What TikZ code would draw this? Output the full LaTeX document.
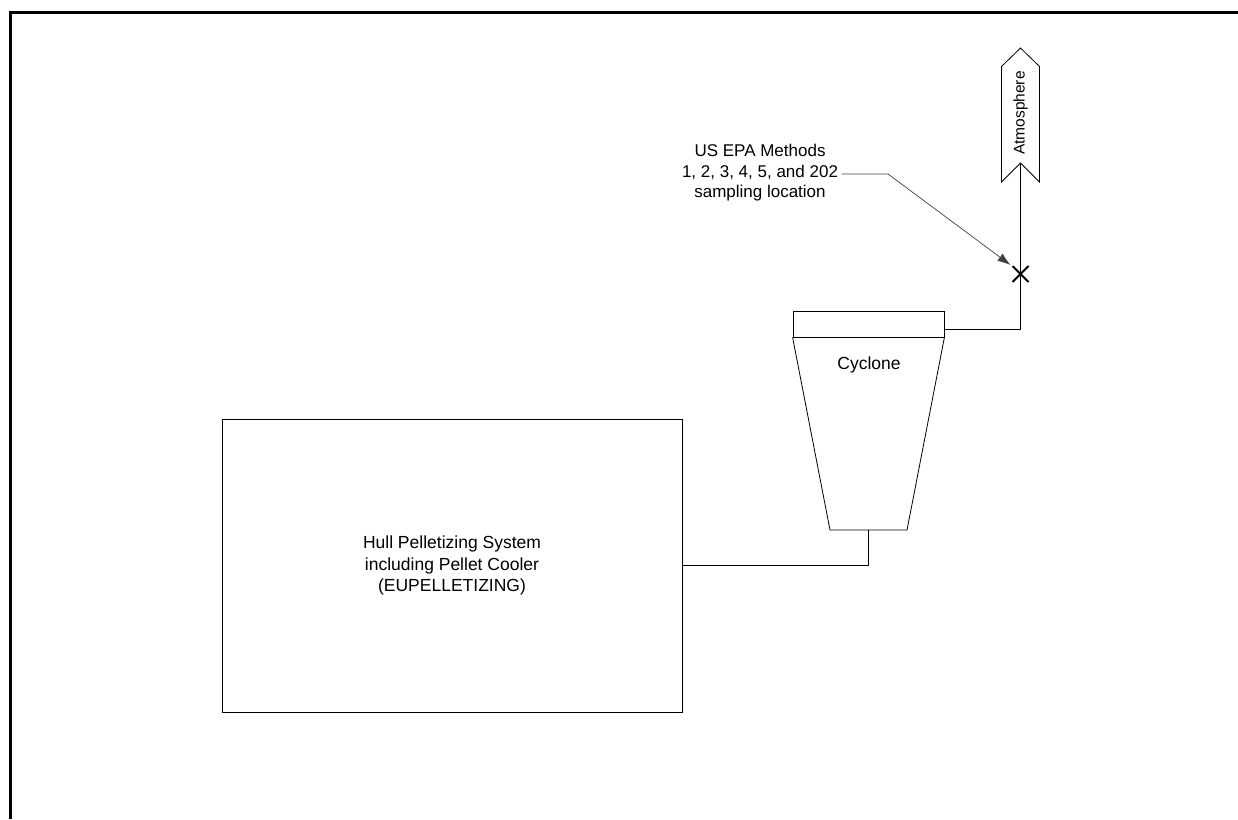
\documentclass[tikz,border=0pt]{standalone}
\usepackage{fontspec}
\setmainfont{Liberation Sans}
\usetikzlibrary{arrows.meta, positioning, calc}

\begin{document}
\begin{tikzpicture}[
    x=1pt, y=-1pt, % pixel-like units, y downwards
    >=Latex, % Set default arrow tip style
    frame/.style={line width=3pt}, % Style for the page border
    unit/.style={draw, line width=0.8pt, inner sep=0pt, align=center, font=\fontsize{17.5}{21.5}\selectfont}, % Style for process boxes
    pipe/.style={line width=0.8pt}, % Style for ducts
    leader/.style={-{Latex[length=13pt, width=9pt]}, line width=0.7pt, black!75}, % Style for the callout
    lbl/.style={align=center, font=\fontsize{17}{20.5}\selectfont} % Style for texts
]
    \useasboundingbox (0,0) rectangle (1238,819);

    % Border
    \draw[frame] (1238,12) -- (10,12) -- (10,819);

    % Hull pelletizing system
    \node[unit, minimum width=460pt, minimum height=293pt] (hull) at (452,565.5)
        {Hull Pelletizing System\\including Pellet Cooler\\(EUPELLETIZING)};

    % Cyclone (inlet box and cone)
    \node[draw, line width=0.8pt, minimum width=151pt, minimum height=26pt, inner sep=0pt] (cyctop) at (868.5,324) {};
    \coordinate (cbl) at (830,530);
    \coordinate (cbr) at (907,530);
    \draw[pipe] (cyctop.south west) -- (cbl) -- (cbr) -- (cyctop.south east);
    \node[lbl, font=\fontsize{17.5}{21}\selectfont] (cyclone) at (869,365) {Cyclone};
    \coordinate (cout) at ($(cbl)!0.5!(cbr)$);
    \coordinate (cexit) at ([yshift=-5pt]cyctop.east);

    % Atmosphere (stack exit marker)
    \coordinate (tip) at (1020.5,48);
    \coordinate (notch) at (1020.5,163);
    \draw[pipe] (tip) -- (1039.5,66.5) -- (1039.5,182) -- (notch) -- (1001.5,182) -- (1001.5,66.5) -- cycle;
    \node[rotate=90, font=\fontsize{15.5}{18}\selectfont] (atm) at (1020.5,113) {Atmosphere};

    % Ducts
    \draw[pipe] (hull.east) -| (cout);
    \draw[pipe] (cexit) -| (notch);

    % Sampling location
    \coordinate (samp) at (1020.5,274);
    \draw[line width=2pt] ([shift={(-8,-8)}]samp) -- ([shift={(8,8)}]samp)
                          ([shift={(-8,8)}]samp) -- ([shift={(8,-8)}]samp);

    \node[lbl] (epa) at (760,173) {US EPA Methods\\1, 2, 3, 4, 5, and 202\\sampling location};
    \coordinate (bend) at (888,174);
    \draw[leader] (epa.east |- bend) -- (bend) -- ([shift={(-10,-9)}]samp);

\end{tikzpicture}
\end{document}
